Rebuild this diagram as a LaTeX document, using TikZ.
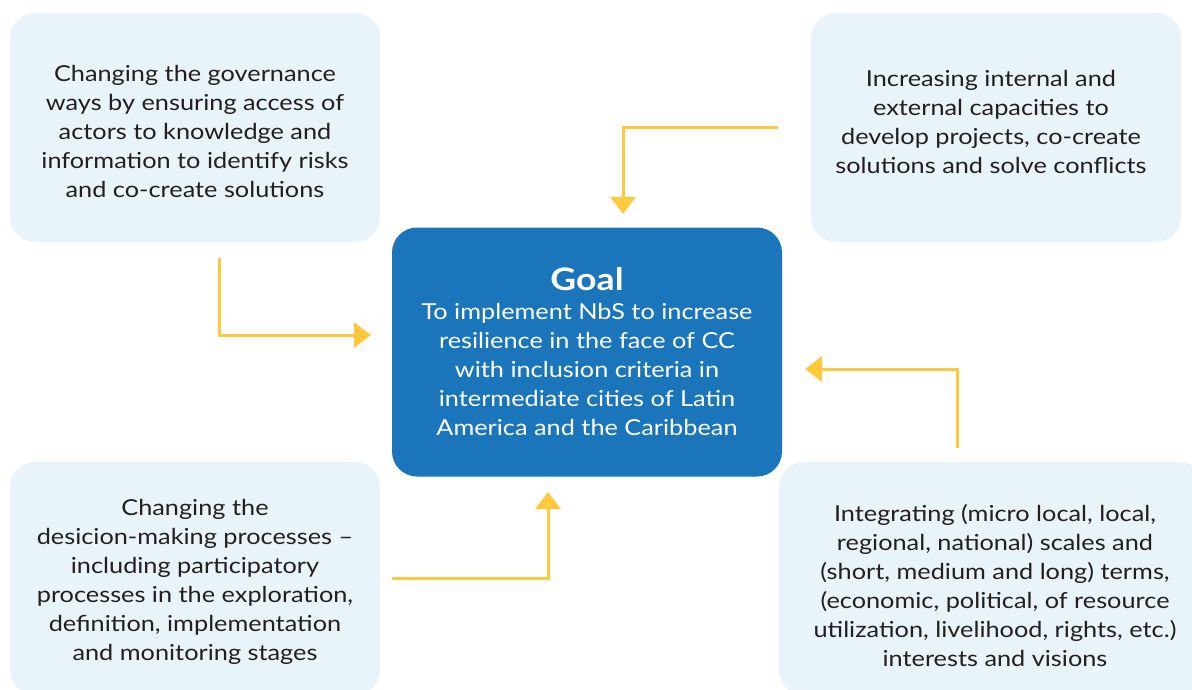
\documentclass[tikz,border=0pt]{standalone}
\usepackage{fontspec}
\setmainfont{Lato}[FakeStretch=1.15]
\usetikzlibrary{arrows.meta}
\definecolor{boxfill}{HTML}{E8F4F9}
\definecolor{goalblue}{HTML}{1B75BB}
\definecolor{arrowyellow}{HTML}{FFC83D}
\definecolor{txt}{HTML}{231F20}
\tikzset{
  sidebox/.style={fill=boxfill, draw=none, rounded corners=25pt, inner sep=0pt},
  sidetext/.style={align=center, text=txt, inner sep=0pt,
    font=\fontsize{22}{29}\selectfont},
  goalbox/.style={fill=goalblue, draw=none, rounded corners=25pt, align=center,
    text=white, inner sep=0pt, font=\fontsize{22}{29}\selectfont},
  flow/.style={draw=arrowyellow, line width=3pt,
    -{Triangle[length=17pt,width=25pt]}},
}
\begin{document}
\begin{tikzpicture}[x=1pt,y=-1pt]
\useasboundingbox (0,0) rectangle (1192,690);
\clip (0,0) rectangle (1192,690);
\fill[white] (0,0) rectangle (1192,690);
% boxes
\node[sidebox, minimum width=370pt, minimum height=229pt] (tl) at (195,127.5) {};
\node[sidetext] (tltext) at (195,131.5)
  {Changing the governance\\ways by ensuring access of\\actors to knowledge and\\information to identify risks\\and co-create solutions};
\node[sidebox, minimum width=370pt, minimum height=229pt] (tr) at (996,127.5) {};
\node[sidetext] (trtext) at (991,121.5)
  {Increasing internal and\\external capacities to\\develop projects, co-create\\solutions and solve conflicts};
\node[goalbox, minimum width=390pt, minimum height=249pt] (goal) at (587,352)
  {{\fontsize{31}{34}\selectfont\bfseries Goal}\\To implement NbS to increase\\resilience in the face of CC\\with inclusion criteria in\\intermediate cities of Latin\\America and the Caribbean};
\node[sidebox, minimum width=370pt, minimum height=233pt] (bl) at (195,578.5) {};
\node[sidetext] (bltext) at (195,581.5)
  {Changing the\\desicion-making processes --\\including participatory\\processes in the exploration,\\definition, implementation\\and monitoring stages};
\node[sidebox, minimum width=426pt, minimum height=233pt] (br) at (992,578.5) {};
\node[sidetext] (brtext) at (995,586)
  {Integrating (micro local, local,\\regional, national) scales and\\(short, medium and long) terms,\\(economic, political, of resource\\utilization, livelihood, rights, etc.)\\interests and visions};
% connector coordinates
\coordinate (tlS) at (219,258);
\coordinate (tlE) at (371,335);
\coordinate (trS) at (778,128);
\coordinate (trE) at (623,214);
\coordinate (brS) at (957,448);
\coordinate (brE) at (805,369);
\coordinate (blS) at (392,578);
\coordinate (blE) at (548,492);
% connectors
\draw[flow] (tlS) |- (tlE);
\draw[flow] (trS) -| (trE);
\draw[flow] (brS) |- (brE);
\draw[flow] (blS) -| (blE);
\end{tikzpicture}
\end{document}
